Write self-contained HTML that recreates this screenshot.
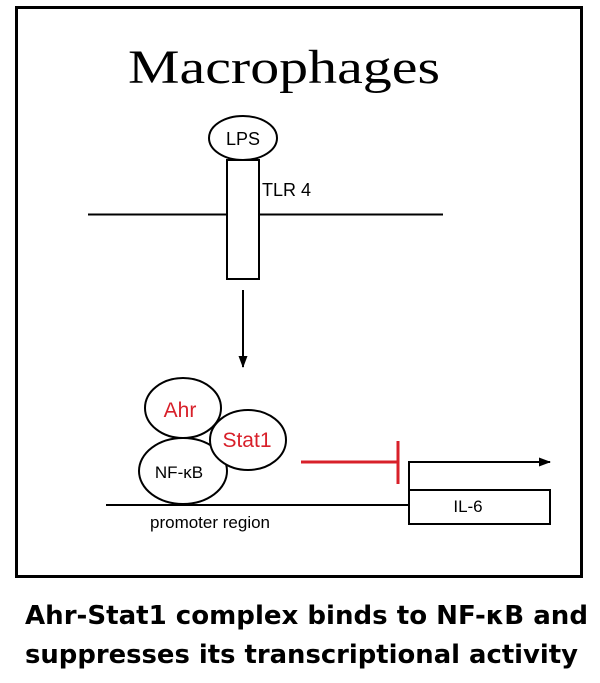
<!DOCTYPE html>
<html><head><meta charset="utf-8"><style>
html,body{margin:0;padding:0;background:#fff;}
svg{display:block;}
</style></head><body>
<svg width="600" height="683" viewBox="0 0 600 683" xmlns="http://www.w3.org/2000/svg">
<defs>
<marker id="ah" markerWidth="12" markerHeight="12" refX="11" refY="6" orient="auto" markerUnits="userSpaceOnUse">
<path d="M0,1.5 L12,6 L0,10.5 Z" fill="#000"/>
</marker>
</defs>
<rect x="16.5" y="7.5" width="565" height="569" fill="none" stroke="#000" stroke-width="3"/>
<text x="128" y="83" font-family="Liberation Serif, serif" font-size="48" textLength="312" lengthAdjust="spacingAndGlyphs">Macrophages</text>
<line x1="88" y1="214.5" x2="443" y2="214.5" stroke="#000" stroke-width="2"/>
<rect x="227" y="160" width="32" height="119" fill="#fff" stroke="#000" stroke-width="2"/>
<ellipse cx="243" cy="138" rx="34" ry="22" fill="#fff" stroke="#000" stroke-width="2"/>
<text x="243" y="145" text-anchor="middle" font-family="Liberation Sans, sans-serif" font-size="18">LPS</text>
<text x="262" y="196" font-family="Liberation Sans, sans-serif" font-size="18">TLR 4</text>
<line x1="243" y1="290" x2="243" y2="367" stroke="#000" stroke-width="2" marker-end="url(#ah)"/>
<line x1="106" y1="505" x2="410" y2="505" stroke="#000" stroke-width="2"/>
<text x="150" y="528" font-family="Liberation Sans, sans-serif" font-size="17">promoter region</text>
<ellipse cx="183" cy="408" rx="38" ry="30" fill="#fff" stroke="#000" stroke-width="2"/>
<ellipse cx="183" cy="471" rx="44" ry="33" fill="#fff" stroke="#000" stroke-width="2"/>
<ellipse cx="248" cy="440" rx="38" ry="30" fill="#fff" stroke="#000" stroke-width="2"/>
<text x="180" y="417" text-anchor="middle" font-family="Liberation Sans, sans-serif" font-size="21" fill="#d8202a">Ahr</text>
<text x="247" y="447" text-anchor="middle" font-family="Liberation Sans, sans-serif" font-size="21" fill="#d8202a">Stat1</text>
<text x="179" y="478" text-anchor="middle" font-family="Liberation Sans, sans-serif" font-size="17">NF-κB</text>
<line x1="301" y1="462" x2="398" y2="462" stroke="#d8202a" stroke-width="3"/>
<line x1="398" y1="441" x2="398" y2="484" stroke="#d8202a" stroke-width="3"/>
<polyline points="409,490 409,462 550,462" fill="none" stroke="#000" stroke-width="2" marker-end="url(#ah)"/>
<rect x="409" y="490" width="141" height="34" fill="#fff" stroke="#000" stroke-width="2"/>
<text x="468" y="512" text-anchor="middle" font-family="Liberation Sans, sans-serif" font-size="17">IL-6</text>
<text x="25" y="624" font-family="DejaVu Sans, Verdana, sans-serif" font-weight="bold" font-size="26" textLength="563" lengthAdjust="spacingAndGlyphs">Ahr-Stat1 complex binds to NF-κB and</text>
<text x="25" y="663" font-family="DejaVu Sans, Verdana, sans-serif" font-weight="bold" font-size="26" textLength="553" lengthAdjust="spacingAndGlyphs">suppresses its transcriptional activity</text>
</svg>
</body></html>
